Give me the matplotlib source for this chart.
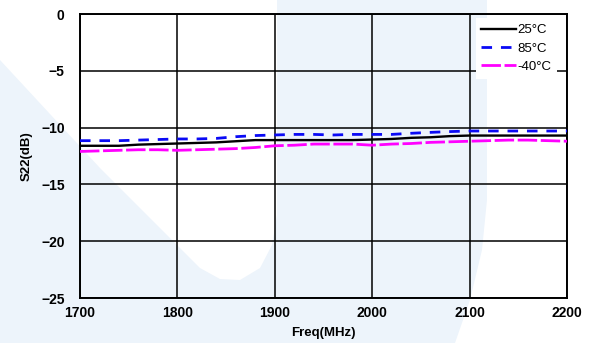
import numpy as np
import matplotlib
matplotlib.use("Agg")
import matplotlib.pyplot as plt
from matplotlib.patches import Polygon

plt.rcParams['font.family'] = ['Liberation Sans', 'DejaVu Sans']

freq = [1700, 1720, 1740, 1760, 1780, 1800, 1820, 1840, 1860, 1880, 1900, 1920, 1940,
        1960, 1980, 2000, 2020, 2040, 2060, 2080, 2100, 2120, 2140, 2160, 2180, 2200]
s22_25 = [-11.6, -11.6, -11.6, -11.5, -11.45, -11.4, -11.35, -11.3, -11.2, -11.1, -11.1, -11.1, -11.1,
          -11.1, -11.1, -11.05, -11.0, -10.9, -10.85, -10.75, -10.7, -10.7, -10.7, -10.7, -10.7, -10.7]
s22_85 = [-11.15, -11.15, -11.15, -11.1, -11.05, -11.0, -11.0, -10.95, -10.8, -10.7, -10.65, -10.6, -10.6,
          -10.65, -10.6, -10.6, -10.6, -10.5, -10.42, -10.35, -10.3, -10.3, -10.3, -10.3, -10.3, -10.3]
s22_m40 = [-12.1, -12.05, -12.0, -11.95, -11.95, -12.0, -11.95, -11.9, -11.85, -11.75, -11.6, -11.55, -11.45,
           -11.45, -11.45, -11.55, -11.45, -11.4, -11.3, -11.25, -11.2, -11.15, -11.1, -11.1, -11.15, -11.2]
labels = ['25°C', '85°C', '-40°C']

W, H = 589, 343
fig = plt.figure(figsize=(W / 100, H / 100), dpi=100)
fig.patch.set_facecolor('#edf4fb')

# watermark-ish white areas of the background (pixel coords, y down)
def px(pts):
    return [(x / W, 1 - y / H) for x, y in pts]

left_white = [(0, 0), (277, 0), (277, 215), (272, 245), (260, 268), (240, 280), (220, 279),
              (200, 268), (170, 238), (100, 168), (0, 60)]
right_white = [(487, 0), (589, 0), (589, 343), (455, 343), (470, 300), (482, 250), (487, 200)]
for pts in (left_white, right_white):
    fig.patches.append(Polygon(px(pts), closed=True, transform=fig.transFigure,
                               facecolor='white', edgecolor='none', zorder=-1))

ax = fig.add_axes([80 / W, 1 - 298 / H, (567 - 80) / W, (298 - 14) / H])
ax.set_facecolor('none')

ax.plot(freq, s22_25, color='black', lw=1.7, label=labels[0], zorder=4)
ax.plot(freq, s22_85, color='#0a0af5', lw=2.0, dashes=(3.8, 3.2), label=labels[1], zorder=4)
ax.plot(freq, s22_m40, color='#ff00ff', lw=2.0, dashes=(7, 1.3), label=labels[2], zorder=3)

ax.set_xlim(1700, 2200)
ax.set_ylim(-25, 0)
ax.set_xticks(range(1700, 2201, 100))
ax.set_yticks(range(-25, 1, 5))
ax.grid(True, color='black', lw=1.1)
ax.set_axisbelow(True)
for s in ax.spines.values():
    s.set_linewidth(1.4)
ax.tick_params(length=0, labelsize=10)
ax.tick_params(axis='y', pad=11)
ax.tick_params(axis='x', pad=6)
for t in ax.get_xticklabels() + ax.get_yticklabels():
    t.set_fontweight('bold')

ax.set_xlabel('Freq(MHz)', fontsize=9.5, fontweight='bold', labelpad=5)
ax.set_ylabel('S22(dB)', fontsize=9.5, fontweight='bold', labelpad=6)

leg = ax.legend(loc='upper right', bbox_to_anchor=(0.9795, 0.985), borderaxespad=0,
                fontsize=9.5, frameon=True, fancybox=False, framealpha=1,
                facecolor='white', edgecolor='none', handlelength=2.6,
                handletextpad=0.1, labelspacing=0.45, borderpad=0.45)

fig.savefig('out.png', dpi=100, facecolor=fig.get_facecolor())
